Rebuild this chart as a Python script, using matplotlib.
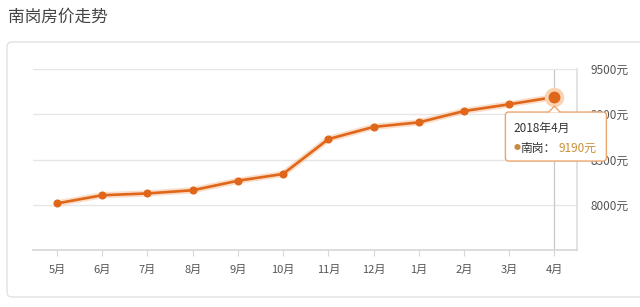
import matplotlib
matplotlib.use("Agg")
import matplotlib.pyplot as plt
from matplotlib.patches import FancyBboxPatch, Polygon
from matplotlib.transforms import IdentityTransform, ScaledTranslation

plt.rcParams['font.family'] = ['Noto Sans CJK SC', 'DejaVu Sans']

# data (yuan per square metre)
months = ['5月', '6月', '7月', '8月', '9月', '10月', '11月', '12月', '1月', '2月', '3月', '4月']
prices = [8015, 8105, 8125, 8160, 8265, 8340, 8725, 8860, 8910, 9035, 9110, 9190]
y_ticks = [8000, 8500, 9000, 9500]
tip_title = '2018年4月'
series_name = '南岗'

LINE = '#e0661a'
GRID = '#e6e6e6'
TEXT = '#555555'

fig = plt.figure(figsize=(6.4, 3.07), dpi=100)
fig.patch.set_facecolor('white')

# card behind the chart
card = FancyBboxPatch((7, 10), 660, 255, boxstyle='round,pad=0,rounding_size=5',
                      transform=IdentityTransform(), facecolor='white',
                      edgecolor='#e2e2e2', linewidth=1.0, zorder=-5)
fig.patches.append(card)

fig.text(8 / 640, 1 - 17 / 307, '南岗房价走势', fontsize=12, color='#444444',
         va='center', ha='left')

ax = fig.add_axes([33 / 640, 57 / 307, 544 / 640, 181 / 307])
ax.set_zorder(1)
ax.set_facecolor('none')
x = list(range(len(months)))
ax.set_xlim(-0.53, 11.5)
ax.set_ylim(7500, 9500)

for v in y_ticks:
    ax.axhline(v, color=GRID, lw=1.0, zorder=1)

ax.spines['left'].set_visible(False)
ax.spines['top'].set_color(GRID)
ax.spines['right'].set_color('#dddddd')
ax.spines['bottom'].set_color('#d6d6d6')
for s in ('right', 'bottom'):
    ax.spines[s].set_linewidth(1.2)

ax.yaxis.tick_right()
ax.set_yticks(y_ticks)
ax.set_yticklabels([f'{v}元' for v in y_ticks])
ax.set_xticks(x)
ax.set_xticklabels(months)
ax.tick_params(axis='y', length=0, pad=10, labelsize=8.5, labelcolor=TEXT)
ax.tick_params(axis='x', length=4, color='#d6d6d6', pad=7, labelsize=8, labelcolor=TEXT)

# crosshair at the hovered point
ax.axvline(x[-1], color='#c8c8c8', lw=0.9, zorder=2)

# soft glow under the line, then the line itself
ax.plot(x, prices, color='#f4b486', lw=4.5, alpha=0.45, zorder=3,
        solid_capstyle='round')
ax.plot(x, prices, color=LINE, lw=1.9, marker='o', markersize=4.8,
        markeredgecolor=LINE, zorder=4)
ax.plot(x[-1], prices[-1], 'o', color='#fad3b3', markersize=13, zorder=4)
ax.plot(x[-1], prices[-1], 'o', color=LINE, markersize=7.5, zorder=5)

# tooltip anchored on the last point, sized in pixels
tip = IdentityTransform() + ScaledTranslation(x[-1], prices[-1], ax.transData)
box = FancyBboxPatch((-49, -64), 101, 49, boxstyle='round,pad=0,rounding_size=3',
                     transform=tip, facecolor='white', edgecolor='#eba56f',
                     linewidth=1.0, zorder=6, clip_on=False)
ax.add_patch(box)
arrow = Polygon([(-6, -15.5), (0, -9), (6, -15.5)], closed=False, transform=tip,
                facecolor='white', edgecolor='#eba56f', linewidth=1.0, zorder=7,
                clip_on=False)
ax.add_patch(arrow)

ax.annotate(tip_title, (x[-1], prices[-1]), xytext=(-41, -31),
            textcoords='offset pixels', fontsize=8.5, color='#333333',
            va='center', ha='left', zorder=8, annotation_clip=False)
ax.annotate('●', (x[-1], prices[-1]), xytext=(-41, -51),
            textcoords='offset pixels', fontsize=5, color='#c98a44',
            va='center', ha='left', zorder=8, annotation_clip=False)
ax.annotate(f'{series_name}：', (x[-1], prices[-1]), xytext=(-34, -51),
            textcoords='offset pixels', fontsize=8.5, color='#333333',
            va='center', ha='left', zorder=8, annotation_clip=False)
ax.annotate(f'{prices[-1]}元', (x[-1], prices[-1]), xytext=(4, -51),
            textcoords='offset pixels', fontsize=8.5, color='#c8913a',
            va='center', ha='left', zorder=8, annotation_clip=False)

fig.savefig('out.png', dpi=100)
